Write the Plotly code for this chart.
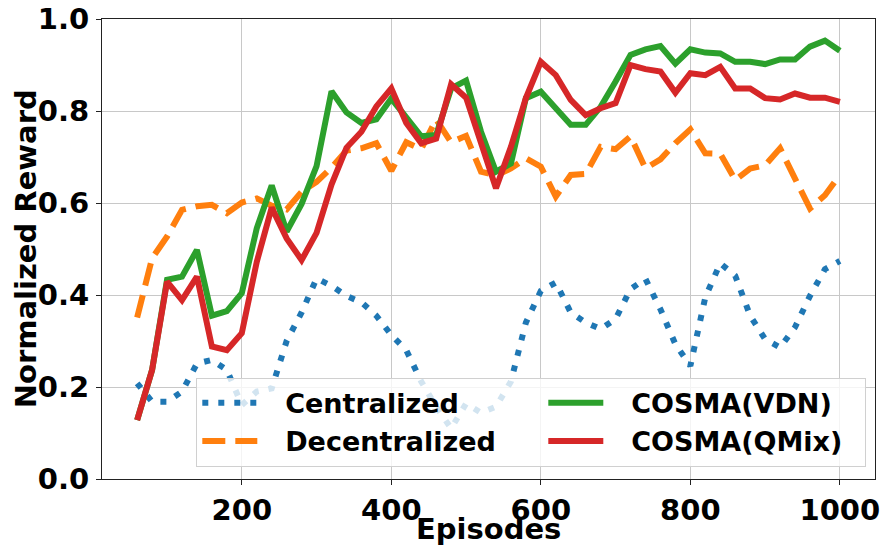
import plotly.graph_objects as go

# Episode checkpoints
episodes = [60, 80, 100, 120, 140, 160, 180, 200, 220, 240, 260, 280, 300, 320, 340, 360,
            380, 400, 420, 440, 460, 480, 500, 520, 540, 560, 580, 600, 620, 640, 660, 680,
            700, 720, 740, 760, 780, 800, 820, 840, 860, 880, 900, 920, 940, 960, 980, 1000]

centralized = [0.208, 0.168, 0.168, 0.190, 0.251, 0.259, 0.237, 0.161, 0.190, 0.197, 0.300, 0.362,
               0.436, 0.420, 0.398, 0.384, 0.355, 0.313, 0.280, 0.212, 0.157, 0.110, 0.164, 0.144,
               0.157, 0.212, 0.340, 0.409, 0.427, 0.362, 0.340, 0.326, 0.348, 0.413, 0.435, 0.369,
               0.293, 0.246, 0.395, 0.469, 0.442, 0.355, 0.304, 0.286, 0.330, 0.398, 0.456, 0.474]

decentralized = [0.351, 0.480, 0.527, 0.585, 0.593, 0.596, 0.578, 0.601, 0.610, 0.594, 0.586, 0.624,
                 0.646, 0.677, 0.714, 0.719, 0.730, 0.670, 0.732, 0.717, 0.782, 0.732, 0.746, 0.668,
                 0.660, 0.675, 0.697, 0.679, 0.614, 0.661, 0.663, 0.722, 0.717, 0.745, 0.675, 0.695,
                 0.730, 0.760, 0.708, 0.707, 0.650, 0.675, 0.682, 0.719, 0.653, 0.588, 0.617, 0.661]

cosma_vdn = [0.128, 0.237, 0.433, 0.440, 0.498, 0.355, 0.365, 0.404, 0.545, 0.638, 0.538, 0.598,
             0.680, 0.843, 0.797, 0.774, 0.782, 0.827, 0.786, 0.745, 0.748, 0.849, 0.866, 0.755,
             0.668, 0.686, 0.828, 0.842, 0.806, 0.770, 0.770, 0.809, 0.864, 0.922, 0.934, 0.941,
             0.903, 0.934, 0.927, 0.925, 0.907, 0.907, 0.902, 0.912, 0.912, 0.940, 0.953, 0.931]

cosma_qmix = [0.128, 0.237, 0.429, 0.389, 0.440, 0.288, 0.280, 0.317, 0.472, 0.590, 0.523, 0.476,
              0.535, 0.640, 0.720, 0.755, 0.810, 0.849, 0.774, 0.730, 0.740, 0.858, 0.829, 0.730,
              0.632, 0.722, 0.828, 0.907, 0.878, 0.824, 0.791, 0.806, 0.817, 0.900, 0.891, 0.886,
              0.840, 0.882, 0.878, 0.896, 0.849, 0.849, 0.828, 0.825, 0.838, 0.829, 0.829, 0.820]

x_ticks = [200, 400, 600, 800, 1000]
y_ticks = [0.0, 0.2, 0.4, 0.6, 0.8, 1.0]

FONT = "DejaVu Sans"
LW = 6
PAD = "\u2002 "  # gap between legend swatch and label

# name, values, colour, dash pattern, legend rank, legend entry width
series = [
    ("Centralized", centralized, "#1f77b4", "6px,10px", 1, 276),
    ("Decentralized", decentralized, "#ff7f0e", "23px,10px", 3, 276),
    ("COSMA(VDN)", cosma_vdn, "#2ca02c", "solid", 2, 252),
    ("COSMA(QMix)", cosma_qmix, "#d62728", "solid", 4, 252),
]

fig = go.Figure()
for name, vals, color, dash, rank, lw_entry in series:
    fig.add_trace(go.Scatter(
        x=episodes, y=vals, mode="lines", name=PAD + name, legendrank=rank,
        legendwidth=lw_entry,
        line=dict(color=color, width=LW, dash=dash),
    ))

axis_common = dict(
    showline=True, linecolor="#222222", linewidth=1.2, mirror=True,
    showgrid=True, gridcolor="#c8c8c8", gridwidth=1,
    ticks="outside", ticklen=5, tickwidth=1.2, tickcolor="#222222",
    tickfont=dict(family=FONT, size=29, color="black", weight="bold"),
    zeroline=False, automargin=False,
)

fig.update_xaxes(
    range=[13, 1047], tickvals=x_ticks, ticktext=[str(t) for t in x_ticks],
    **axis_common,
)
fig.update_yaxes(
    range=[0, 1], tickvals=y_ticks, ticktext=[f"{t:.1f}" for t in y_ticks],
    ticklabelstandoff=1,
    **axis_common,
)

title_font = dict(family=FONT, size=29, color="black", weight="bold")
fig.add_annotation(text="Episodes", xref="paper", yref="paper", x=0.5, y=-0.109,
                   xanchor="center", yanchor="middle", showarrow=False, font=title_font)
fig.add_annotation(text="Normalized Reward", xref="paper", yref="paper", x=-0.098, y=0.5,
                   xanchor="center", yanchor="middle", textangle=-90, showarrow=False,
                   font=title_font)

fig.update_layout(
    width=885, height=548,
    margin=dict(l=102, r=10, t=19, b=69),
    paper_bgcolor="white", plot_bgcolor="white",
    showlegend=True,
    legend=dict(
        orientation="h", x=0.122, y=0.22, xanchor="left", yanchor="top",
        itemwidth=55,
        bgcolor="rgba(255,255,255,0.8)", bordercolor="#d0d0d0", borderwidth=1,
        font=dict(family=FONT, size=27, color="black", weight="bold"),
        traceorder="normal",
    ),
)

fig.write_html("out.html")
